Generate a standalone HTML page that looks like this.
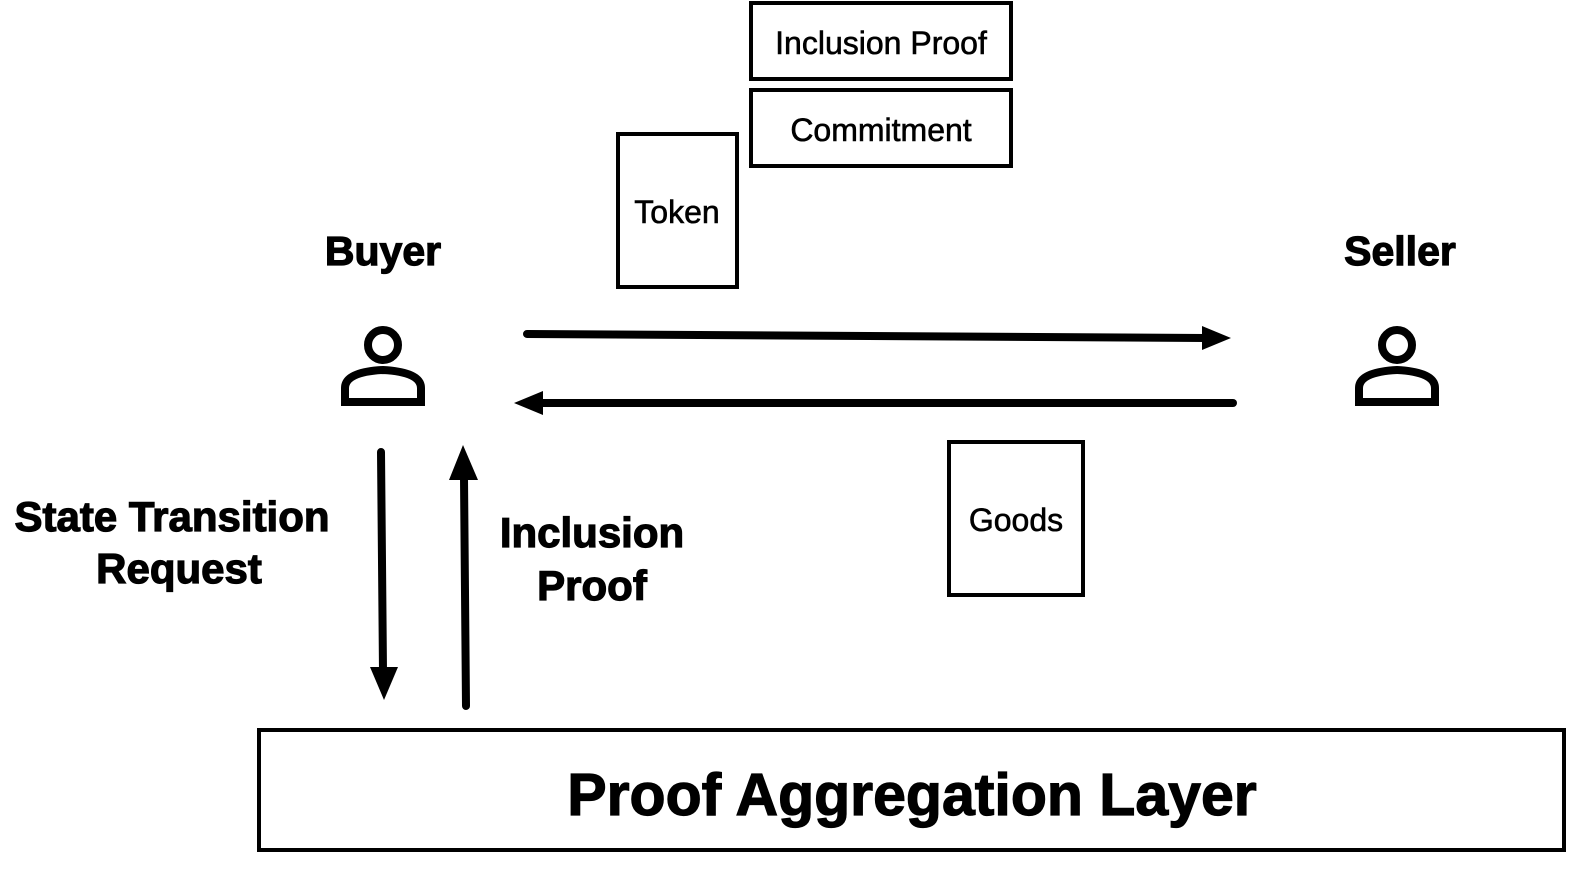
<!DOCTYPE html>
<html><head><style>
body{margin:0;background:#fff;}
svg text{font-family:"Liberation Sans",sans-serif;}
</style></head><body>
<svg width="1585" height="864" viewBox="0 0 1585 864" xmlns="http://www.w3.org/2000/svg">
<g fill="none" stroke="#000" stroke-width="4">
<rect x="751" y="3" width="260" height="76"/>
<rect x="751" y="90" width="260" height="76"/>
<rect x="618" y="134" width="119" height="153"/>
<rect x="949" y="442" width="134" height="153"/>
<rect x="259" y="730" width="1305" height="120"/>
</g>
<g font-size="32" text-anchor="middle" fill="#000" stroke="#000" stroke-width="0.6">
<text x="881" y="54">Inclusion Proof</text>
<text x="881" y="141">Commitment</text>
<text x="677" y="223">Token</text>
<text x="1016" y="531">Goods</text>
</g>
<g font-weight="bold" text-anchor="middle" fill="#000" stroke="#000" stroke-width="1.2">
<text x="383" y="265" font-size="41">Buyer</text>
<text x="1400" y="265" font-size="41">Seller</text>
<text x="172" y="531" font-size="42">State Transition</text>
<text x="179" y="583" font-size="42">Request</text>
<text x="592" y="547" font-size="42">Inclusion</text>
<text x="592" y="600" font-size="42">Proof</text>
<text x="912" y="815" font-size="59">Proof Aggregation Layer</text>
</g>
<g id="p" fill="none" stroke="#000" stroke-width="8">
<circle cx="383" cy="345" r="15"/>
<path d="M345 402 V388 Q345 372 383 370 Q421 372 421 388 V402 Z"/>
</g>
<use href="#p" x="1014"/>
<g stroke="#000" stroke-width="8" stroke-linecap="round" fill="none">
<line x1="527" y1="334" x2="1205" y2="338"/>
<line x1="1233" y1="403" x2="540" y2="403"/>
<line x1="381" y1="452" x2="383" y2="672"/>
<line x1="466" y1="706" x2="464" y2="478"/>
</g>
<g fill="#000">
<polygon points="1231,338 1202,326 1202,350"/>
<polygon points="514,403 543,391 543,415"/>
<polygon points="384,700 370,667 398,667"/>
<polygon points="463,445 449,480 478,480"/>
</g>
</svg>
</body></html>
